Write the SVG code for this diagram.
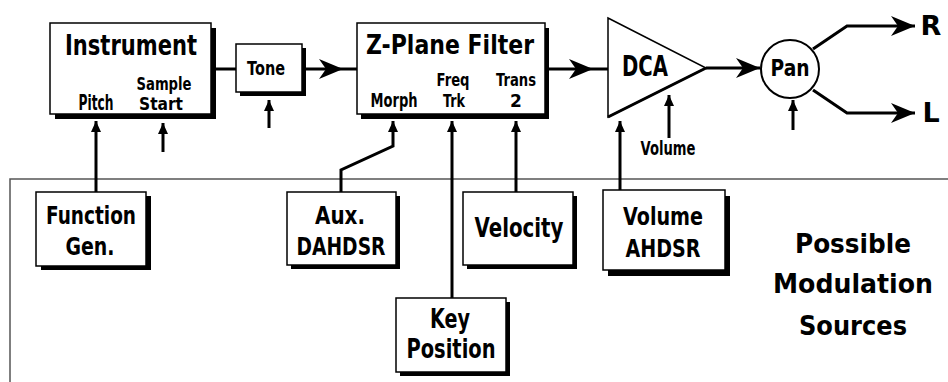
<svg xmlns="http://www.w3.org/2000/svg" width="948" height="382" viewBox="0 0 948 382">
<style>
text{font-family:"DejaVu Sans","Liberation Sans",sans-serif;font-weight:bold;fill:#000;text-anchor:middle}
.box{fill:#fff;stroke:#000;stroke-width:1.5}
.sh{fill:#000}
.ln{fill:none;stroke:#000;stroke-width:3}
.frame{fill:none;stroke:#555;stroke-width:1.5}
</style>
<defs>
<marker id="big" markerUnits="userSpaceOnUse" markerWidth="30" markerHeight="30" refX="0" refY="0" orient="auto" overflow="visible"><path d="M0,0 L-24,-10 L-17,0 L-24,10 Z" fill="#000"/></marker>
<marker id="sm" markerUnits="userSpaceOnUse" markerWidth="16" markerHeight="16" refX="0" refY="0" orient="auto" overflow="visible"><path d="M0,0 L-11,-5 L-11,5 Z" fill="#000"/></marker>
</defs>
<rect width="948" height="382" fill="#fff"/>
<path class="frame" d="M10,382 L10,179 L948,179"/>

<g id="connectors">
<path class="ln" d="M211,69 L236,69"/>
<path class="ln" d="M302,69 L343,69" marker-end="url(#big)"/>
<path class="ln" d="M343,69 L357,69"/>
<path class="ln" d="M545,69 L593,69" marker-end="url(#big)"/>
<path class="ln" d="M593,69 L608,69"/>
<path class="ln" d="M706,68 L760,68" marker-end="url(#big)"/>
<path class="ln" d="M813,49 L847,26 L915,26" marker-end="url(#big)"/>
<path class="ln" d="M813,90 L847,113 L915,113" marker-end="url(#big)"/>
<path class="ln" d="M96,192 L96,121" marker-end="url(#sm)"/>
<path class="ln" d="M163,152 L163,123" marker-end="url(#sm)"/>
<path class="ln" d="M269,128 L269,100" marker-end="url(#sm)"/>
<path class="ln" d="M341,192 L341,170 L393,146 L393,121" marker-end="url(#sm)"/>
<path class="ln" d="M452,298 L452,121" marker-end="url(#sm)"/>
<path class="ln" d="M516,192 L516,121" marker-end="url(#sm)"/>
<path class="ln" d="M620,190 L620,121" marker-end="url(#sm)"/>
<path class="ln" d="M669,138 L669,95" marker-end="url(#sm)"/>
<path class="ln" d="M793,130 L793,100" marker-end="url(#sm)"/>
</g>

<g id="instrument">
<rect class="sh" x="55" y="28" width="161" height="91"/>
<rect class="box" x="50" y="23" width="161" height="91"/>
<text x="131" y="55" font-size="29" textLength="132" lengthAdjust="spacingAndGlyphs">Instrument</text>
<text x="96" y="110" font-size="21" textLength="35" lengthAdjust="spacingAndGlyphs">Pitch</text>
<text x="164" y="90" font-size="17" textLength="55" lengthAdjust="spacingAndGlyphs">Sample</text>
<text x="161" y="110" font-size="17" textLength="44" lengthAdjust="spacingAndGlyphs">Start</text>
</g>

<g id="tone">
<rect class="sh" x="240" y="48" width="66" height="48"/>
<rect class="box" x="236" y="44" width="66" height="48"/>
<text x="266" y="75" font-size="19" textLength="38" lengthAdjust="spacingAndGlyphs">Tone</text>
</g>

<g id="filter">
<rect class="sh" x="361" y="28" width="188" height="91"/>
<rect class="box" x="357" y="23" width="188" height="91"/>
<text x="450" y="54" font-size="27" textLength="168" lengthAdjust="spacingAndGlyphs">Z-Plane Filter</text>
<text x="394" y="107" font-size="20" textLength="47" lengthAdjust="spacingAndGlyphs">Morph</text>
<text x="453" y="86" font-size="17" textLength="33" lengthAdjust="spacingAndGlyphs">Freq</text>
<text x="454" y="107" font-size="17" textLength="22" lengthAdjust="spacingAndGlyphs">Trk</text>
<text x="516" y="86" font-size="17" textLength="40" lengthAdjust="spacingAndGlyphs">Trans</text>
<text x="516" y="107" font-size="17">2</text>
</g>

<g id="dca">
<path d="M608,18 L706,68 L608,117 Z" fill="#fff" stroke="#000" stroke-width="1.5" stroke-linejoin="miter"/>
<path d="M608,117 L706,68" stroke="#000" stroke-width="3"/>
<text x="645" y="76" font-size="29" textLength="46" lengthAdjust="spacingAndGlyphs">DCA</text>
<text x="668" y="155" font-size="20" textLength="55" lengthAdjust="spacingAndGlyphs">Volume</text>
</g>

<g id="pan">
<circle cx="790" cy="69" r="29" fill="#fff" stroke="#000" stroke-width="2"/>
<text x="790" y="76" font-size="23" textLength="39" lengthAdjust="spacingAndGlyphs">Pan</text>
</g>

<g id="out-r"><text x="931" y="35" font-size="27">R</text></g>
<g id="out-l"><text x="931" y="122" font-size="27">L</text></g>

<g id="function-gen">
<rect class="sh" x="41" y="196" width="110" height="74"/>
<rect class="box" x="36" y="192" width="110" height="74"/>
<text x="91" y="224" font-size="24" textLength="90" lengthAdjust="spacingAndGlyphs">Function</text>
<text x="90" y="255" font-size="24" textLength="49" lengthAdjust="spacingAndGlyphs">Gen.</text>
</g>

<g id="aux-dahdsr">
<rect class="sh" x="291" y="196" width="109" height="73"/>
<rect class="box" x="287" y="192" width="109" height="73"/>
<text x="340" y="224" font-size="24" textLength="50" lengthAdjust="spacingAndGlyphs">Aux.</text>
<text x="341" y="255" font-size="24" textLength="89" lengthAdjust="spacingAndGlyphs">DAHDSR</text>
</g>

<g id="velocity">
<rect class="sh" x="467" y="196" width="110" height="73"/>
<rect class="box" x="463" y="192" width="110" height="73"/>
<text x="519" y="237" font-size="26" textLength="89" lengthAdjust="spacingAndGlyphs">Velocity</text>
</g>

<g id="key-position">
<rect class="sh" x="400" y="302" width="110" height="74"/>
<rect class="box" x="396" y="298" width="110" height="74"/>
<text x="450" y="328" font-size="26" textLength="40" lengthAdjust="spacingAndGlyphs">Key</text>
<text x="451" y="358" font-size="26" textLength="89" lengthAdjust="spacingAndGlyphs">Position</text>
</g>

<g id="volume-ahdsr">
<rect class="sh" x="608" y="196" width="122" height="80"/>
<rect class="box" x="603" y="190" width="122" height="80"/>
<text x="663" y="225" font-size="25" textLength="80" lengthAdjust="spacingAndGlyphs">Volume</text>
<text x="663" y="257" font-size="25" textLength="75" lengthAdjust="spacingAndGlyphs">AHDSR</text>
</g>

<g id="modulation-label">
<text x="853" y="253" font-size="27" textLength="116" lengthAdjust="spacingAndGlyphs">Possible</text>
<text x="853" y="293" font-size="27" textLength="160" lengthAdjust="spacingAndGlyphs">Modulation</text>
<text x="853" y="335" font-size="27" textLength="108" lengthAdjust="spacingAndGlyphs">Sources</text>
</g>
</svg>
